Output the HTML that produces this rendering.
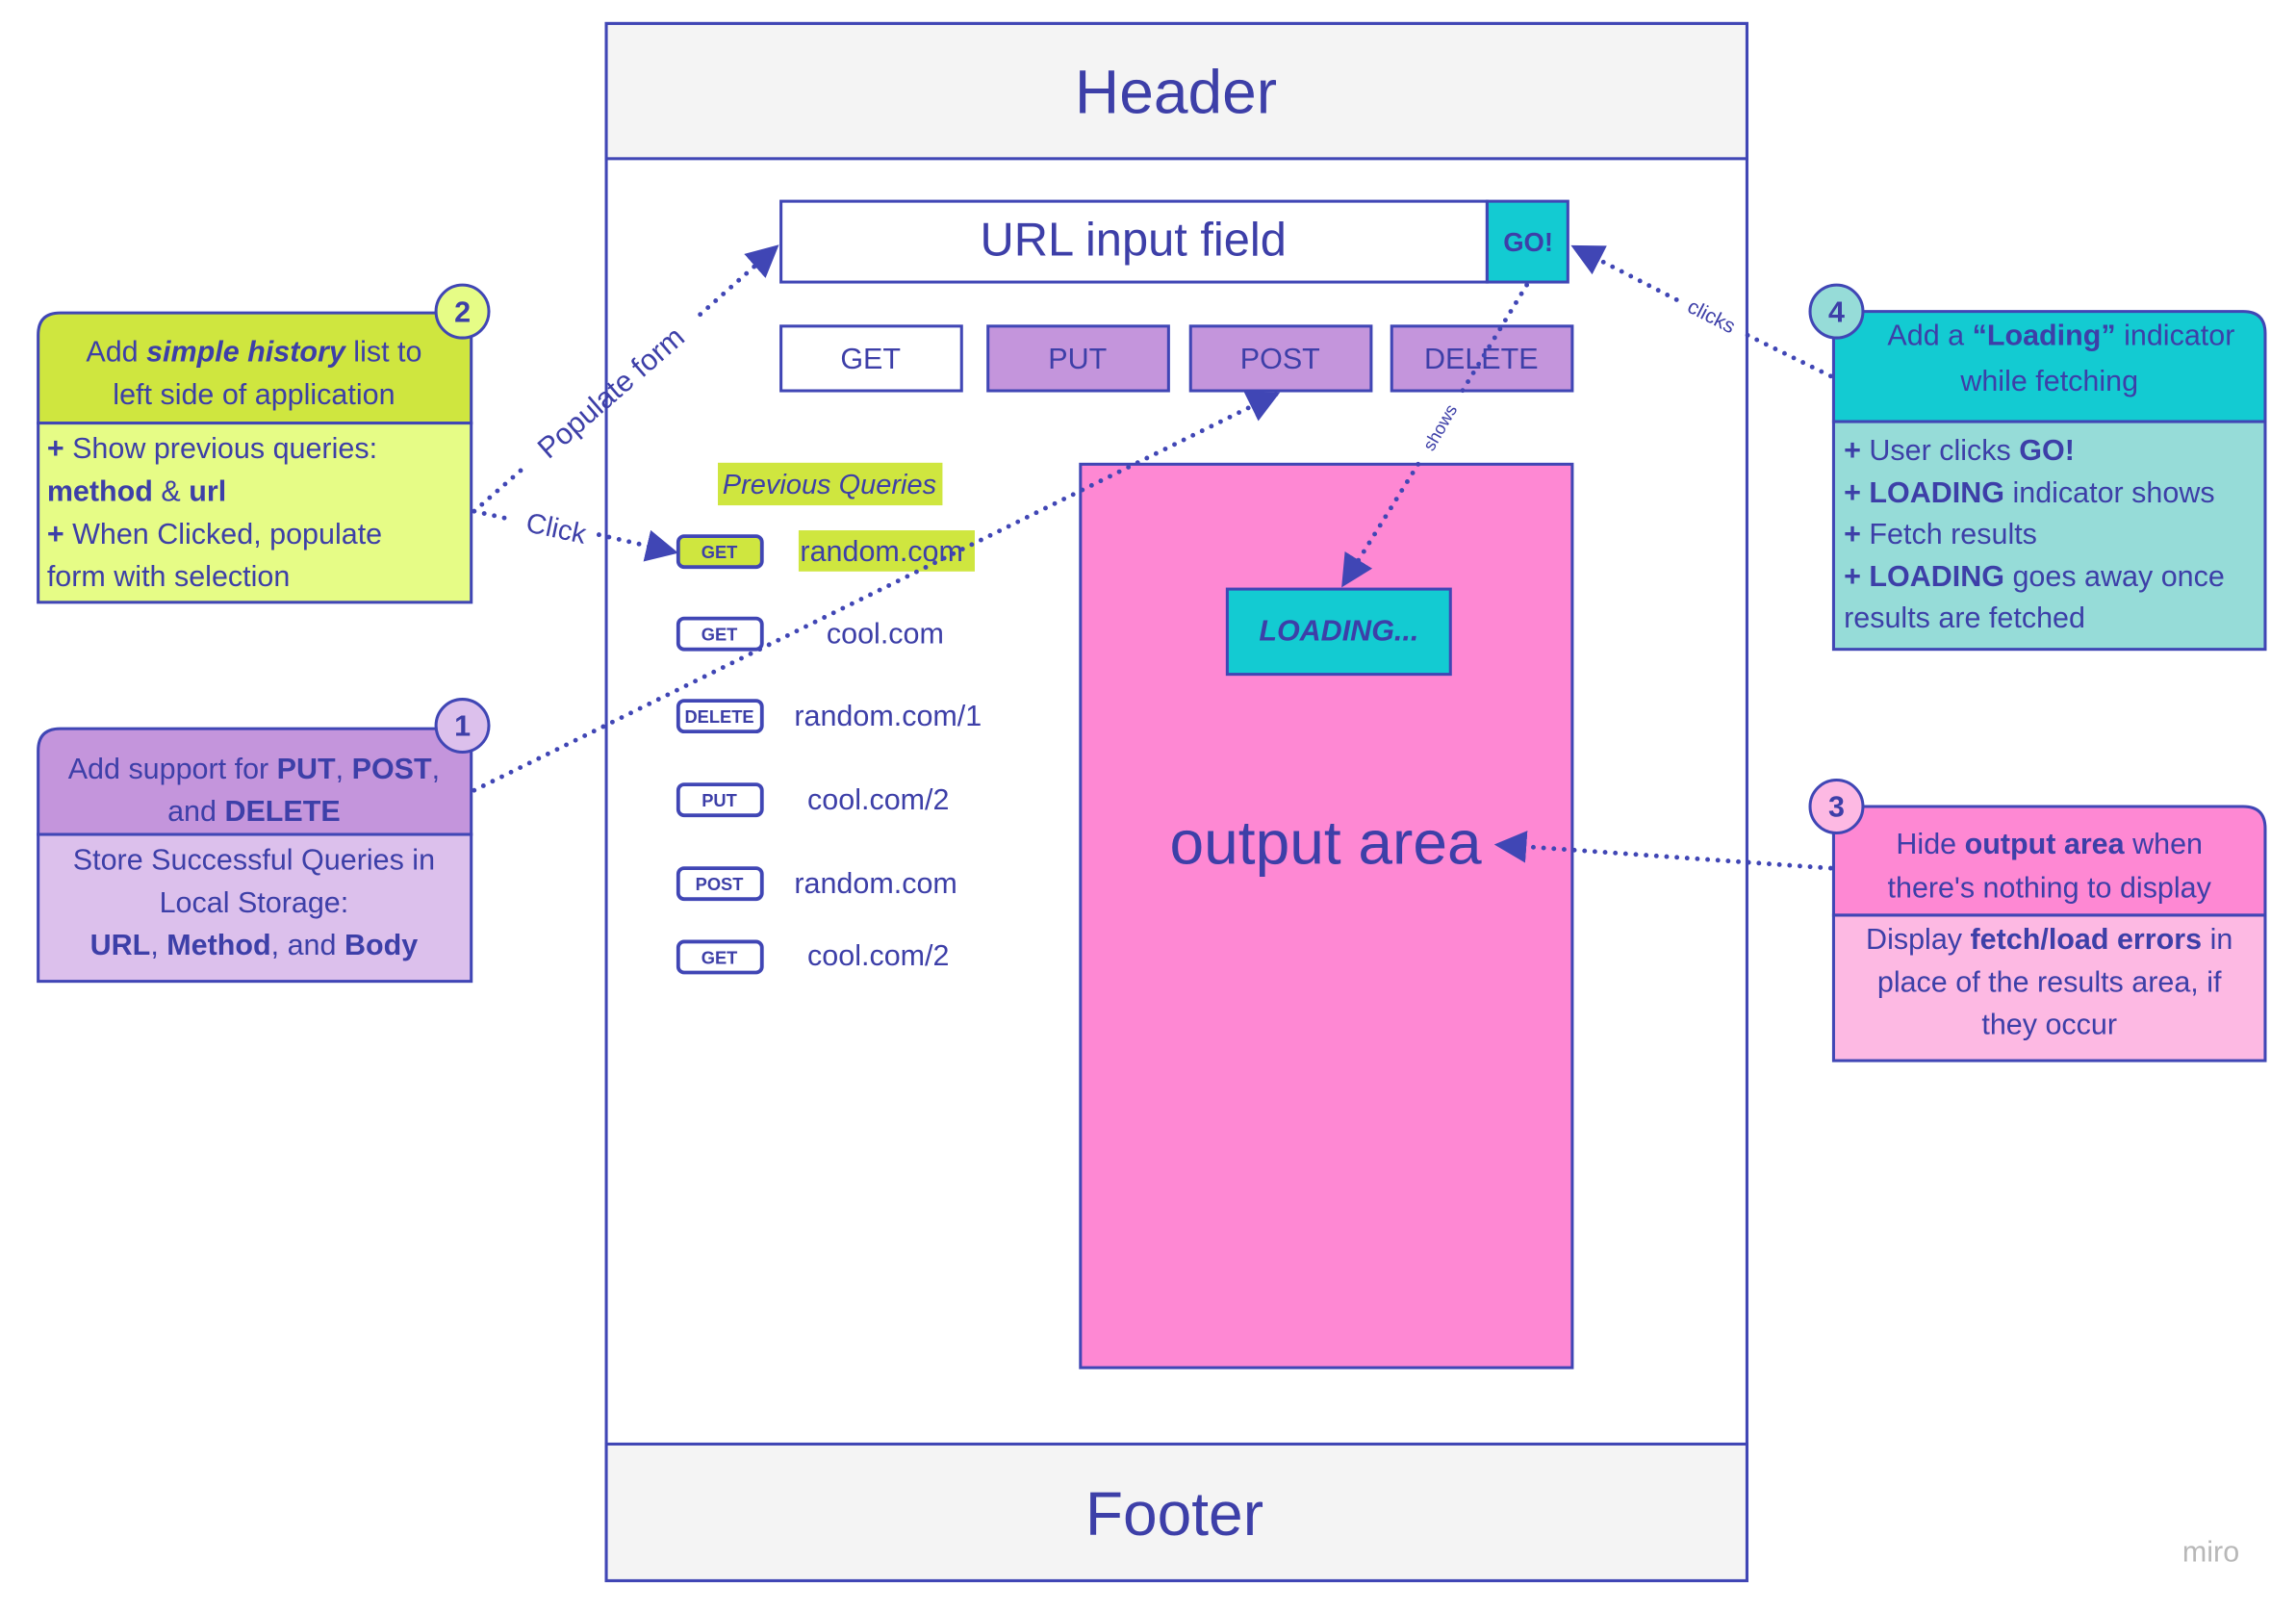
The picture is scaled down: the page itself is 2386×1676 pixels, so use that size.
<!DOCTYPE html>
<html><head><meta charset="utf-8"><style>
html,body{margin:0;padding:0;background:#fff;}
svg{display:block;}
text{font-family:"Liberation Sans",sans-serif;fill:#3d3fa8;}
</style></head><body>
<svg width="2386" height="1676" viewBox="0 0 1564 1098" preserveAspectRatio="none" xmlns="http://www.w3.org/2000/svg">
<defs>
<marker id="ar2" viewBox="0 0 10 10" refX="9" refY="5" markerWidth="22" markerHeight="22" markerUnits="userSpaceOnUse" orient="auto"><path d="M0,0 L10,5 L0,10 z" fill="#4046b5"/></marker>
</defs>
<g stroke="#4046b5" stroke-width="2">
<rect x="413" y="16" width="777" height="1060" fill="#fff"/>
<rect x="413" y="16" width="777" height="92" fill="#f4f4f4"/>
<rect x="413" y="983" width="777" height="93" fill="#f4f4f4"/>
<rect x="532" y="137" width="481" height="55" fill="#fff"/>
<rect x="1013" y="137" width="55" height="55" fill="#13cbd2"/>
<rect x="532" y="222" width="123" height="44" fill="#fff"/>
<rect x="673" y="222" width="123" height="44" fill="#c495dc"/>
<rect x="811" y="222" width="123" height="44" fill="#c495dc"/>
<rect x="948" y="222" width="123" height="44" fill="#c495dc"/>
<rect x="736" y="316" width="335" height="615" fill="#fe88d3"/>
<rect x="836" y="401" width="152" height="58" fill="#13cbd2"/>
</g>
<text x="801" y="77" font-size="42" text-anchor="middle">Header</text>
<text x="800" y="1045" font-size="42" text-anchor="middle">Footer</text>
<text x="772" y="174" font-size="32" text-anchor="middle">URL input field</text>
<text x="1041" y="171" font-size="18" font-weight="bold" text-anchor="middle">GO!</text>
<text x="593" y="251" font-size="20" text-anchor="middle">GET</text>
<text x="734" y="251" font-size="20" text-anchor="middle">PUT</text>
<text x="872" y="251" font-size="20" text-anchor="middle">POST</text>
<text x="1009" y="251" font-size="20" text-anchor="middle">DELETE</text>
<text x="912" y="436" font-size="20" font-weight="bold" font-style="italic" text-anchor="middle">LOADING...</text>
<text x="903" y="588" font-size="42" text-anchor="middle">output area</text>
<rect x="489" y="315" width="153" height="29" fill="#cfe63f"/>
<text x="565" y="336" font-size="19" font-style="italic" text-anchor="middle">Previous Queries</text>
<rect x="544" y="361" width="120" height="28" fill="#cfe63f"/>
<g stroke="#4046b5" stroke-width="2.5">
<rect x="462" y="365" width="57" height="21" rx="4" fill="#cfe63f"/>
<rect x="462" y="421" width="57" height="21" rx="4" fill="#fff"/>
<rect x="462" y="477" width="57" height="21" rx="4" fill="#fff"/>
<rect x="462" y="534" width="57" height="21" rx="4" fill="#fff"/>
<rect x="462" y="591" width="57" height="21" rx="4" fill="#fff"/>
<rect x="462" y="641" width="57" height="21" rx="4" fill="#fff"/>
</g>
<g font-size="12" font-weight="bold" text-anchor="middle">
<text x="490" y="380">GET</text><text x="490" y="436">GET</text><text x="490" y="492">DELETE</text>
<text x="490" y="549">PUT</text><text x="490" y="606">POST</text><text x="490" y="656">GET</text>
</g>
<g font-size="20">
<text x="545" y="382">random.com</text><text x="563" y="438">cool.com</text><text x="541" y="494">random.com/1</text>
<text x="550" y="551">cool.com/2</text><text x="541" y="608">random.com</text><text x="550" y="657">cool.com/2</text>
</g>
<g fill="none" stroke="#4046b5" stroke-width="3.2" stroke-linecap="round" stroke-dasharray="0 7">
<path d="M323,348 L355,320"/>
<path d="M477,214 L529,168" marker-end="url(#ar2)"/>
<path d="M323,348 L350,354"/>
<path d="M408,364 L460,376" marker-end="url(#ar2)"/>
<path d="M323,538 L870,268" marker-end="url(#ar2)"/>
<path d="M1040,194 L995,268"/>
<path d="M966,316 L915,398" marker-end="url(#ar2)"/>
<path d="M1247,256 L1190,228"/>
<path d="M1142,204 L1072,168" marker-end="url(#ar2)"/>
<path d="M1247,591 L1020,575" marker-end="url(#ar2)"/>
</g>
<text x="0" y="0" font-size="20" text-anchor="middle" transform="translate(416,267) rotate(-41)" dy="7">Populate form</text>
<text x="0" y="0" font-size="19" text-anchor="middle" transform="translate(379,359) rotate(12)" dy="7">Click</text>
<text x="0" y="0" font-size="14" text-anchor="middle" transform="translate(1166,215) rotate(27)" dy="5">clicks</text>
<text x="0" y="0" font-size="12" text-anchor="middle" transform="translate(981,291) rotate(-60)" dy="4">shows</text>
<g stroke="#4046b5" stroke-width="2">
<path d="M26,288 L26,228 Q26,213 41,213 L321,213 L321,288 z" fill="#cfe63f"/>
<rect x="26" y="288" width="295" height="122" fill="#e6fc86"/>
<circle cx="315" cy="212" r="18" fill="#e6fc86"/>
<path d="M26,568 L26,511 Q26,496 41,496 L321,496 L321,568 z" fill="#c495dc"/>
<rect x="26" y="568" width="295" height="100" fill="#dcc0ec"/>
<circle cx="315" cy="494" r="18" fill="#dcc0ec"/>
<path d="M1249,287 L1249,212 L1528,212 Q1543,212 1543,227 L1543,287 z" fill="#13cbd2"/>
<rect x="1249" y="287" width="294" height="155" fill="#96dcd8"/>
<circle cx="1251" cy="212" r="18" fill="#96dcd8"/>
<path d="M1249,623 L1249,549 L1528,549 Q1543,549 1543,564 L1543,623 z" fill="#fe88d3"/>
<rect x="1249" y="623" width="294" height="99" fill="#fdb9e3"/>
<circle cx="1251" cy="549" r="18" fill="#fdb9e3"/>
</g>
<g font-size="20" font-weight="bold" text-anchor="middle">
<text x="315" y="219">2</text><text x="315" y="501">1</text><text x="1251" y="219">4</text><text x="1251" y="556">3</text>
</g>
<g font-size="20">
<text x="173" y="246" text-anchor="middle">Add <tspan font-weight="bold" font-style="italic">simple history</tspan> list to</text>
<text x="173" y="275" text-anchor="middle">left side of application</text>
<text x="32" y="312"><tspan font-weight="bold">+</tspan> Show previous queries:</text>
<text x="32" y="341"><tspan font-weight="bold">method</tspan> &amp; <tspan font-weight="bold">url</tspan></text>
<text x="32" y="370"><tspan font-weight="bold">+</tspan> When Clicked, populate</text>
<text x="32" y="399">form with selection</text>
<text x="173" y="530" text-anchor="middle">Add support for <tspan font-weight="bold">PUT</tspan>, <tspan font-weight="bold">POST</tspan>,</text>
<text x="173" y="559" text-anchor="middle">and <tspan font-weight="bold">DELETE</tspan></text>
<text x="173" y="592" text-anchor="middle">Store Successful Queries in</text>
<text x="173" y="621" text-anchor="middle">Local Storage:</text>
<text x="173" y="650" text-anchor="middle"><tspan font-weight="bold">URL</tspan>, <tspan font-weight="bold">Method</tspan>, and <tspan font-weight="bold">Body</tspan></text>
<text x="1404" y="235" text-anchor="middle">Add a <tspan font-weight="bold">“Loading”</tspan> indicator</text>
<text x="1396" y="266" text-anchor="middle">while fetching</text>
<text x="1256" y="313"><tspan font-weight="bold">+</tspan> User clicks <tspan font-weight="bold">GO!</tspan></text>
<text x="1256" y="342"><tspan font-weight="bold">+ LOADING</tspan> indicator shows</text>
<text x="1256" y="370"><tspan font-weight="bold">+</tspan> Fetch results</text>
<text x="1256" y="399"><tspan font-weight="bold">+ LOADING</tspan> goes away once</text>
<text x="1256" y="427">results are fetched</text>
<text x="1396" y="581" text-anchor="middle">Hide <tspan font-weight="bold">output area</tspan> when</text>
<text x="1396" y="611" text-anchor="middle">there's nothing to display</text>
<text x="1396" y="646" text-anchor="middle">Display <tspan font-weight="bold">fetch/load errors</tspan> in</text>
<text x="1396" y="675" text-anchor="middle">place of the results area, if</text>
<text x="1396" y="704" text-anchor="middle">they occur</text>
</g>
<text x="1506" y="1063" font-size="20" text-anchor="middle" style="fill:#b8b8b8">miro</text>
</svg>
</body></html>
